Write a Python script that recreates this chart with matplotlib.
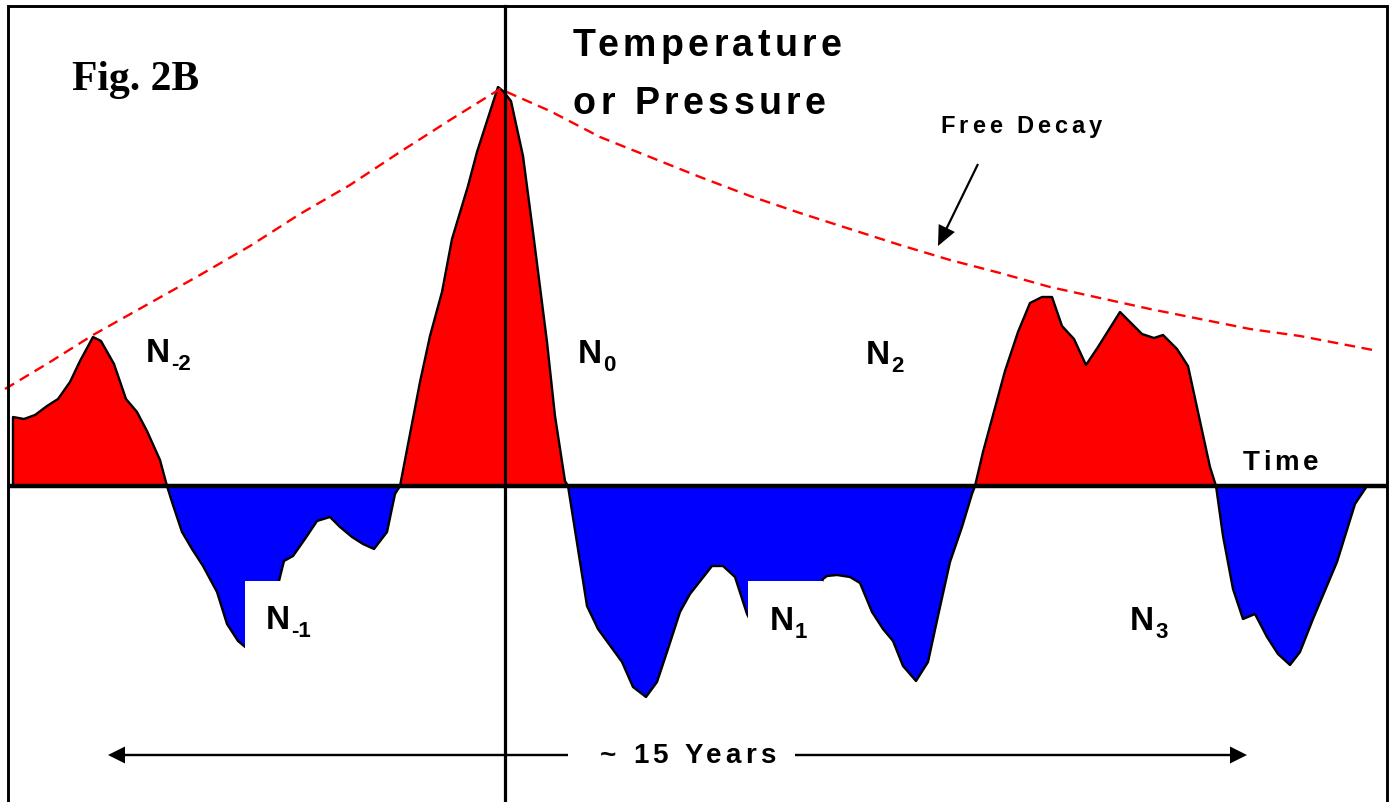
import numpy as np
import matplotlib
matplotlib.use("Agg")
import matplotlib.pyplot as plt
from matplotlib.font_manager import FontProperties
from matplotlib.patches import Rectangle

DPI = 100

# signal trace: time (origin at the vertical axis) and level (0 = time axis)
time = [-492, -492, -481, -470, -458, -447, -435, -425, -412, -404, -391, -379, -368, -358,
        -345, -338, -333, -323, -313, -302, -288, -278, -267, -255, -240, -226, -221, -212,
        -200, -188, -175, -165, -153, -142, -131, -118, -110, -105, -85, -75, -63, -53, -37,
        -28, -7, -2, 6, 18, 28, 42, 50, 60, 63, 82, 93, 117, 128, 141, 152, 162, 175, 185,
        207, 218, 230, 242, 255, 290, 310, 318, 322, 332, 345, 355, 367, 378, 388, 398, 411,
        423, 433, 445, 457, 467, 470, 478, 500, 513, 525, 537, 547, 557, 569, 581, 593, 615,
        637, 649, 658, 672, 683, 693, 705, 711, 718, 728, 738, 750, 762, 773, 785, 795, 808,
        832, 850, 862]
level = [0, 69, 67, 71, 80, 87, 104, 125, 149, 145, 122, 87, 74, 55,
         26, 0, -16, -46, -63, -80, -106, -138, -155, -165, -143, -95, -75, -70,
         -53, -35, -31, -41, -51, -58, -63, -46, -8, 0, 104, 150, 194, 247, 300,
         334, 399, 395, 385, 330, 254, 144, 70, 5, 0, -120, -143, -176, -201, -211, -196, -166, -126, -108,
         -80, -80, -91, -128, -153, -158, -113, -93, -90, -89, -91, -97, -126, -143, -155, -180, -195,
         -176, -130, -76, -41, -8, 0, 34, 115, 154, 183, 189, 189, 160, 147, 121, 139, 174,
         152, 148, 151, 137, 120, 74, 19, 0, -50, -103, -133, -128, -151, -168, -179, -166, -133,
         -76, -18, 0]

# free decay envelope
decay_time = [-500, -455, -412, -355, -305, -255, -205, -155, -105, -55, -5, 45, 95, 145, 195,
              245, 295, 345, 395, 445, 495, 545, 595, 645, 695, 745, 795, 873]
decay_level = [97, 124, 151, 183, 211, 240, 272, 301, 334, 366, 397, 375, 349, 329, 309,
               290, 273, 257, 241, 226, 213, 199, 188, 177, 167, 157, 150, 135]

n_subs = ["-2", "0", "2", "-1", "1", "3"]
n_pos = [(-359, 125), (73, 124), (361, 123), (-239, -142), (265, -143), (625, -143)]

fig = plt.figure(figsize=(13.92, 8.03), dpi=DPI)
ax = fig.add_axes([0, 0, 1, 1])
ax.set_xlim(-505, 887)
ax.set_ylim(-316, 487)
ax.axis("off")
renderer = fig.canvas.get_renderer()

t = np.array(time, float)
y = np.array(level, float)
ax.fill_between(t, y, 0, where=y >= 0, interpolate=True, color="#ff0000", lw=0, zorder=1)
ax.fill_between(t, y, 0, where=y <= 0, interpolate=True, color="#0000ff", lw=0, zorder=1)
ax.plot(t, y, color="black", lw=1.7, zorder=2)

# white boxes behind the lower labels
ax.add_patch(Rectangle((-260, -180), 80, 85, fc="white", ec="none", zorder=3))
ax.add_patch(Rectangle((243, -180), 75, 85, fc="white", ec="none", zorder=3))

ax.plot(decay_time, decay_level, color="#ff0000", lw=1.7, ls=(0, (4.5, 2.8)), zorder=4)

# frame and axes
ax.plot([-497, -497, 882, 882], [-330, 480, 480, -330], color="black", lw=2.1,
        solid_joinstyle="miter", zorder=4)
ax.plot([-497, 882], [0, 0], color="black", lw=3.2, solid_capstyle="butt", zorder=4)
ax.plot([0, 0], [480, -330], color="black", lw=2.3, zorder=4)


def text_w(s, fp):
    return renderer.get_text_width_height_descent(s, fp, ismath=False)[0]


def spaced(x, yb, s, size, gap, family="Liberation Sans"):
    # draw letters one by one, the original has wide letter spacing
    fp = FontProperties(family=family, weight="bold", size=size)
    for i, ch in enumerate(s):
        if ch == " ":
            continue
        adv = text_w(s[:i + 1], fp) - text_w(ch, fp)
        ax.text(x + adv + i * gap, yb, ch, fontproperties=fp, ha="left", va="baseline", zorder=5)


def n_label(x, yb, sub):
    fp = FontProperties(family="Liberation Sans", weight="bold", size=24)
    fs = FontProperties(family="Liberation Sans", weight="bold", size=16)
    ax.text(x, yb, "N", fontproperties=fp, ha="left", va="baseline", zorder=5)
    ax.text(x + text_w("N", fp) + 1, yb - 8, sub, fontproperties=fs, ha="left",
            va="baseline", zorder=5)


for sub, (x, yb) in zip(n_subs, n_pos):
    n_label(x, yb, sub)

ax.text(-433, 397, "Fig. 2B", fontproperties=FontProperties(family="Liberation Serif",
        weight="bold", size=30), ha="left", va="baseline", zorder=5)
spaced(68, 431, "Temperature", 27, 4.4)
spaced(68, 373, "or Pressure", 27, 4.4)
spaced(435, 354, "Free Decay", 17, 4)
spaced(738, 17, "Time", 20, 3.8)
spaced(95, -276, "~ 15 Years", 20, 4.4)

# arrows
ax.arrow(473, 322, -40, -82, width=2.2, head_width=18, head_length=20,
         length_includes_head=True, fc="black", ec="none", zorder=5)
ax.arrow(63, -269, -460, 0, width=2.4, head_width=17, head_length=17,
         length_includes_head=True, fc="black", ec="none", zorder=5)
ax.arrow(290, -269, 452, 0, width=2.4, head_width=17, head_length=17,
         length_includes_head=True, fc="black", ec="none", zorder=5)

plt.savefig("out.png", dpi=DPI)
